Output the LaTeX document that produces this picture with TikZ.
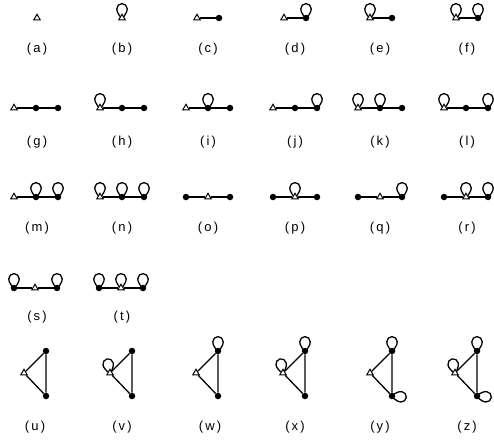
\documentclass[tikz,border=0pt]{standalone}
\usepackage{fontspec}
\setmainfont{Liberation Sans}
\usetikzlibrary{shapes.geometric}
\begin{document}
\begin{tikzpicture}[x=1pt,y=1pt,
  tri/.style={regular polygon,regular polygon sides=3,draw,fill=white,line width=1pt,inner sep=0pt,minimum size=7.5pt},
  dot/.style={circle,fill,inner sep=0pt,minimum size=6.5pt},
  ed/.style={line width=1.3pt},
  lab/.style={font=\fontsize{13}{15}\selectfont,inner sep=0pt},
  bulb/.pic={\draw[line width=1.3pt] (-2,1.5) .. controls (-3,4) and (-5.2,5.5) .. (-5.2,9.2)
      arc[start angle=180,end angle=0,radius=5.2] .. controls (5.2,5.5) and (3,4) .. (2,1.5);}]
\useasboundingbox (0,0) rectangle (494,-439);
% Row 1
\node[tri] (a1) at (37,-18) {};
\node[tri] (b1) at (122,-18) {};
\pic at (b1) {bulb};
\node[tri] (c1) at (197,-18) {}; \node[dot] (c2) at (219,-18) {};
\draw[ed] (c1) -- (c2);
\node[tri] (d1) at (284,-18) {}; \node[dot] (d2) at (306,-18) {};
\draw[ed] (d1) -- (d2); \pic at (d2) {bulb};
\node[tri] (e1) at (370,-18) {}; \node[dot] (e2) at (392,-18) {};
\draw[ed] (e1) -- (e2); \pic at (e1) {bulb};
\node[tri] (f1) at (456,-18) {}; \node[dot] (f2) at (478,-18) {};
\draw[ed] (f1) -- (f2); \pic at (f1) {bulb}; \pic at (f2) {bulb};
\node[lab] (la) at (37,-49) {(\,a\,)};
\node[lab] (lb) at (122,-49) {(\,b\,)};
\node[lab] (lc) at (208,-49) {(\,c\,)};
\node[lab] (ld) at (295,-49) {(\,d\,)};
\node[lab] (le) at (380,-49) {(\,e\,)};
\node[lab] (lf) at (467,-49) {(\,f\,)};
% Row 2
\node[tri] (g1) at (14,-108) {}; \node[dot] (g2) at (36,-108) {}; \node[dot] (g3) at (58,-108) {};
\draw[ed] (g1) -- (g2) -- (g3);
\node[tri] (h1) at (100,-108) {}; \node[dot] (h2) at (122,-108) {}; \node[dot] (h3) at (144,-108) {};
\draw[ed] (h1) -- (h2) -- (h3); \pic at (h1) {bulb};
\node[tri] (i1) at (186,-108) {}; \node[dot] (i2) at (208,-108) {}; \node[dot] (i3) at (230,-108) {};
\draw[ed] (i1) -- (i2) -- (i3); \pic at (i2) {bulb};
\node[tri] (j1) at (273,-108) {}; \node[dot] (j2) at (295,-108) {}; \node[dot] (j3) at (317,-108) {};
\draw[ed] (j1) -- (j2) -- (j3); \pic at (j3) {bulb};
\node[tri] (k1) at (358,-108) {}; \node[dot] (k2) at (380,-108) {}; \node[dot] (k3) at (402,-108) {};
\draw[ed] (k1) -- (k2) -- (k3); \pic at (k1) {bulb}; \pic at (k2) {bulb};
\node[tri] (l1) at (444,-108) {}; \node[dot] (l2) at (466,-108) {}; \node[dot] (l3) at (488,-108) {};
\draw[ed] (l1) -- (l2) -- (l3); \pic at (l1) {bulb}; \pic at (l3) {bulb};
\node[lab] (lg) at (37,-142) {(\,g\,)};
\node[lab] (lh) at (122,-142) {(\,h\,)};
\node[lab] (li) at (208,-142) {(\,i\,)};
\node[lab] (lj) at (295,-142) {(\,j\,)};
\node[lab] (lk) at (380,-142) {(\,k\,)};
\node[lab] (ll) at (467,-142) {(\,l\,)};
% Row 3
\node[tri] (m1) at (14,-197) {}; \node[dot] (m2) at (36,-197) {}; \node[dot] (m3) at (58,-197) {};
\draw[ed] (m1) -- (m2) -- (m3); \pic at (m2) {bulb}; \pic at (m3) {bulb};
\node[tri] (n1) at (100,-197) {}; \node[dot] (n2) at (122,-197) {}; \node[dot] (n3) at (144,-197) {};
\draw[ed] (n1) -- (n2) -- (n3); \pic at (n1) {bulb}; \pic at (n2) {bulb}; \pic at (n3) {bulb};
\node[dot] (o1) at (186,-197) {}; \node[tri] (o2) at (208,-197) {}; \node[dot] (o3) at (230,-197) {};
\draw[ed] (o1) -- (o2) -- (o3);
\node[dot] (p1) at (273,-197) {}; \node[tri] (p2) at (295,-197) {}; \node[dot] (p3) at (317,-197) {};
\draw[ed] (p1) -- (p2) -- (p3); \pic at (p2) {bulb};
\node[dot] (q1) at (358,-197) {}; \node[tri] (q2) at (380,-197) {}; \node[dot] (q3) at (402,-197) {};
\draw[ed] (q1) -- (q2) -- (q3); \pic at (q3) {bulb};
\node[dot] (r1) at (444,-197) {}; \node[tri] (r2) at (466,-197) {}; \node[dot] (r3) at (488,-197) {};
\draw[ed] (r1) -- (r2) -- (r3); \pic at (r2) {bulb}; \pic at (r3) {bulb};
\node[lab] (lm) at (37,-228) {(\,m\,)};
\node[lab] (ln) at (122,-228) {(\,n\,)};
\node[lab] (lo) at (208,-228) {(\,o\,)};
\node[lab] (lp) at (295,-228) {(\,p\,)};
\node[lab] (lq) at (380,-228) {(\,q\,)};
\node[lab] (lrr) at (467,-228) {(\,r\,)};
% Row 4
\node[dot] (s1) at (14,-288) {}; \node[tri] (s2) at (35,-288) {}; \node[dot] (s3) at (57,-288) {};
\draw[ed] (s1) -- (s2) -- (s3); \pic at (s1) {bulb}; \pic at (s3) {bulb};
\node[dot] (t1) at (99,-288) {}; \node[tri] (t2) at (121,-288) {}; \node[dot] (t3) at (143,-288) {};
\draw[ed] (t1) -- (t2) -- (t3); \pic at (t1) {bulb}; \pic at (t2) {bulb}; \pic at (t3) {bulb};
\node[lab] (ls) at (37,-317) {(\,s\,)};
\node[lab] (lt) at (122,-317) {(\,t\,)};
% Row 5
\node[tri] (u1) at (24,-373) {}; \node[dot] (u2) at (46,-351) {}; \node[dot] (u3) at (46,-396) {};
\draw[ed] (u1) -- (u2) -- (u3) -- (u1);
\node[tri] (v1) at (110,-373) {}; \node[dot] (v2) at (132,-351) {}; \node[dot] (v3) at (132,-396) {};
\draw[ed] (v1) -- (v2) -- (v3) -- (v1); \pic[rotate=12] at (v1) {bulb};
\node[tri] (w1) at (196,-373) {}; \node[dot] (w2) at (218,-351) {}; \node[dot] (w3) at (218,-396) {};
\draw[ed] (w1) -- (w2) -- (w3) -- (w1); \pic at (w2) {bulb};
\node[tri] (x1) at (283,-373) {}; \node[dot] (x2) at (305,-351) {}; \node[dot] (x3) at (305,-396) {};
\draw[ed] (x1) -- (x2) -- (x3) -- (x1); \pic[rotate=12] at (x1) {bulb}; \pic at (x2) {bulb};
\node[tri] (y1) at (370,-373) {}; \node[dot] (y2) at (392,-351) {}; \node[dot] (y3) at (392,-396) {};
\draw[ed] (y1) -- (y2) -- (y3) -- (y1); \pic at (y2) {bulb}; \pic[rotate=-95] at (y3) {bulb};
\node[tri] (z1) at (455,-373) {}; \node[dot] (z2) at (477,-351) {}; \node[dot] (z3) at (477,-396) {};
\draw[ed] (z1) -- (z2) -- (z3) -- (z1); \pic[rotate=12] at (z1) {bulb}; \pic at (z2) {bulb}; \pic[rotate=-95] at (z3) {bulb};
\node[lab] (lu) at (35,-427) {(\,u\,)};
\node[lab] (lv) at (122,-427) {(\,v\,)};
\node[lab] (lw) at (210,-427) {(\,w\,)};
\node[lab] (lx) at (295,-427) {(\,x\,)};
\node[lab] (ly) at (380,-427) {(\,y\,)};
\node[lab] (lz) at (467,-427) {(\,z\,)};
\end{tikzpicture}
\end{document}
